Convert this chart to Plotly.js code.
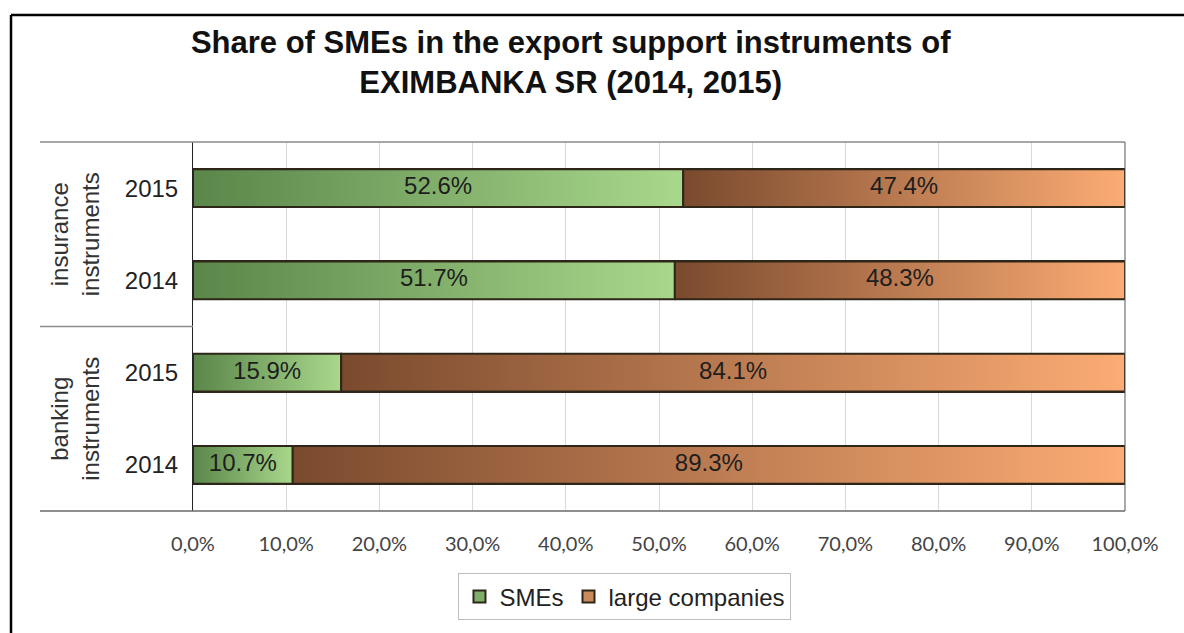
<!DOCTYPE html>
<html>
<head>
<meta charset="utf-8">
<script src="https://cdn.plot.ly/plotly-3.0.1.min.js"></script>
<style>
  html, body { margin: 0; padding: 0; background: #fff; }
  #chart { width: 1184px; height: 633px; }
</style>
</head>
<body>
<div id="chart"></div>
<script>
// ---- data (rows listed bottom to top) ----
const rowGroups = ["banking instruments", "banking instruments", "insurance instruments", "insurance instruments"];
const rowYears = ["2014", "2015", "2014", "2015"];
const smesShare = [10.7, 15.9, 51.7, 52.6];
const largeShare = [89.3, 84.1, 48.3, 47.4];
const seriesNames = ["SMEs", "large companies"];
const groupLabels = ["banking<br>instruments", "insurance<br>instruments"];
const xTickValues = [0, 10, 20, 30, 40, 50, 60, 70, 80, 90, 100];

// ---- styles ----
const seriesGradients = [
  [[0, "#5a864a"], [1, "#a9d88c"]],
  [[0, "#7a4a2e"], [1, "#fcac74"]]
];
const legendColors = ["#7fae68", "#c98a5c"];
const barWidth = 0.41;
const edgeColor = "#2e2618";
const F = "Liberation Sans, Arial, sans-serif";

const seriesValues = [smesShare, largeShare];
const rowIdx = rowYears.map((_, i) => i);
const traces = [];

// stacked bars (base marks, also supply the legend)
seriesValues.forEach((vals, s) => {
  traces.push({
    type: "bar",
    orientation: "h",
    x: vals,
    y: rowIdx,
    width: barWidth,
    name: seriesNames[s],
    legendgroup: seriesNames[s],
    marker: { color: legendColors[s], line: { color: edgeColor, width: 2 } },
    hoverinfo: "skip"
  });
});

// gradient overlay of each bar segment, derived from the same values
seriesValues.forEach((vals, s) => {
  rowIdx.forEach(i => {
    const start = s === 0 ? 0 : smesShare[i];
    const end = start + vals[i];
    const h = barWidth / 2;
    traces.push({
      type: "scatter",
      mode: "lines",
      x: [start, end, end, start, start],
      y: [i - h, i - h, i + h, i + h, i - h],
      fill: "toself",
      fillcolor: legendColors[s],
      fillgradient: { type: "horizontal", colorscale: seriesGradients[s] },
      line: { color: edgeColor, width: 2 },
      legendgroup: seriesNames[s],
      showlegend: false,
      hoverinfo: "skip"
    });
  });
});

// data labels
seriesValues.forEach((vals, s) => {
  traces.push({
    type: "scatter",
    mode: "text",
    x: rowIdx.map(i => (s === 0 ? 0 : smesShare[i]) + vals[i] / 2),
    y: rowIdx,
    text: vals.map(v => v.toFixed(1) + "%"),
    textfont: { family: F, size: 24, color: "#1e1e1e" },
    showlegend: false,
    hoverinfo: "skip"
  });
});

const pxToPaperX = px => (px - 193) / 932;
const groupCenters = [0.5, 2.5];

const layout = {
  width: 1184,
  height: 633,
  margin: { l: 193, r: 59, t: 142, b: 119 },
  paper_bgcolor: "#ffffff",
  plot_bgcolor: "#ffffff",
  barmode: "stack",
  showlegend: true,
  title: {
    text: "<b>Share of SMEs in the export support instruments of<br>EXIMBANKA SR (2014, 2015)</b>",
    font: { family: F, size: 31, color: "#111" },
    xref: "container", x: 0.482, xanchor: "center",
    yref: "container", y: 0.916, yanchor: "middle"
  },
  xaxis: {
    range: [0, 100],
    tickvals: xTickValues,
    ticktext: xTickValues.map(v => v.toFixed(1).replace(".", ",") + "%"),
    showgrid: true,
    gridcolor: "#d9d9d9",
    gridwidth: 1,
    zeroline: false,
    showline: false,
    ticks: "",
    ticklabelstandoff: 19,
    tickfont: { family: "Lato, Carlito, sans-serif", size: 20, color: "#444" },
    fixedrange: true
  },
  yaxis: {
    range: [-0.5, 3.5],
    tickvals: rowIdx,
    ticktext: rowYears,
    showgrid: false,
    zeroline: false,
    showline: true,
    linecolor: "#222",
    linewidth: 1,
    ticks: "",
    ticklabelstandoff: 9,
    tickfont: { family: F, size: 24, color: "#222" },
    fixedrange: true
  },
  legend: {
    orientation: "h",
    xref: "paper", x: 0.4635, xanchor: "center",
    yref: "paper", y: -0.233, yanchor: "middle",
    bordercolor: "#bdbdbd",
    borderwidth: 1,
    bgcolor: "#fff",
    font: { family: F, size: 24, color: "#222" },
    itemwidth: 30,
    traceorder: "normal"
  },
  annotations: groupLabels.map((g, k) => ({
    text: g,
    xref: "paper", x: pxToPaperX(75), xanchor: "center",
    yref: "y", y: groupCenters[k], yanchor: "middle",
    textangle: -90,
    showarrow: false,
    font: { family: F, size: 24, color: "#333" }
  })),
  shapes: [
    { type: "line", xref: "paper", yref: "paper", x0: pxToPaperX(40), x1: 1, y0: 1, y1: 1, line: { color: "#8a8a8a", width: 1.5 } },
    { type: "line", xref: "paper", yref: "paper", x0: pxToPaperX(40), x1: 1, y0: 0, y1: 0, line: { color: "#6a6a6a", width: 1.5 } },
    { type: "line", xref: "paper", yref: "y", x0: pxToPaperX(40), x1: 0, y0: 1.5, y1: 1.5, line: { color: "#8a8a8a", width: 1.5 } },
    { type: "line", xref: "paper", yref: "paper", x0: 1, x1: 1, y0: 0, y1: 1, line: { color: "#555", width: 1 } },
    { type: "line", xref: "paper", yref: "paper", x0: pxToPaperX(11), x1: pxToPaperX(11), y0: -0.4, y1: (514 - 14) / 372, line: { color: "#000", width: 2.5 } },
    { type: "line", xref: "paper", yref: "paper", x0: pxToPaperX(11), x1: 1.2, y0: (514 - 14) / 372, y1: (514 - 14) / 372, line: { color: "#000", width: 2.5 } }
  ]
};

Plotly.newPlot("chart", traces, layout, { displayModeBar: false, staticPlot: true });
</script>
</body>
</html>
